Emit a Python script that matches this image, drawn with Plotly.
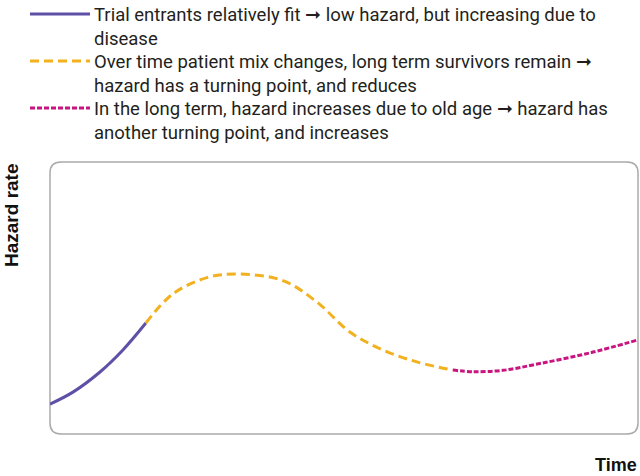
import plotly.graph_objects as go

# Data (time, hazard), axes 0..100
early_x = [0, 3.9, 8.5, 12.4, 16.3]
early_y = [11.0, 15.4, 22.8, 30.9, 40.8]

mid_x = [16.3, 20.9, 26.7, 32.0, 39.6, 45.4, 51.0, 56.6, 62.4, 68.5]
mid_y = [40.8, 51.5, 57.5, 58.8, 56.4, 48.5, 37.5, 30.9, 26.5, 23.5]

late_x = [68.5, 72.0, 77.0, 83.3, 91.8, 100]
late_y = [23.5, 22.9, 23.4, 25.9, 29.8, 34.6]

names = [
    "Trial entrants relatively fit \u279e low hazard, but increasing due to<br>disease",
    "Over time patient mix changes, long term survivors remain \u279e<br>hazard has a turning point, and reduces",
    "In the long term, hazard increases due to old age \u279e hazard has<br>another turning point, and increases",
]
colors = ["#5F4FA6", "#F2B11E", "#C8157F"]
dashes = ["solid", "9px,5px", "5px,2px"]

W, H = 640, 476
ml, mr, mt, mb = 50, 2, 162, 42
pw, ph = W - ml - mr, H - mt - mb


def px_x(px):
    return (px - ml) / pw


def px_y(py):
    return (H - mb - py) / ph


fig = go.Figure()
for xs, ys, nm, c, d in zip([early_x, mid_x, late_x], [early_y, mid_y, late_y], names, colors, dashes):
    fig.add_trace(go.Scatter(x=xs, y=ys, mode="lines", name=nm, showlegend=False,
                             line=dict(color=c, width=3, dash=d, shape="spline", smoothing=1.0)))

rx, ry = 11 / pw, 11 / ph
path = (f"M {rx} 0 L {1-rx} 0 Q 1 0 1 {ry} L 1 {1-ry} Q 1 1 {1-rx} 1 "
        f"L {rx} 1 Q 0 1 0 {1-ry} L 0 {ry} Q 0 0 {rx} 0 Z")
shapes = [dict(type="path", path=path, xref="paper", yref="paper",
               line=dict(color="#AAAAAA", width=1.5), layer="below")]

annotations = []
legend_tops = [14, 61, 108]
for nm, c, d, yl in zip(names, colors, dashes, legend_tops):
    shapes.append(dict(type="line", xref="paper", yref="paper",
                       x0=px_x(30), x1=px_x(90), y0=px_y(yl), y1=px_y(yl),
                       line=dict(color=c, width=3, dash=d)))
    annotations.append(dict(text=nm, x=px_x(92), y=px_y(yl - 12), xref="paper", yref="paper",
                            xanchor="left", yanchor="top", align="left", showarrow=False,
                            font=dict(family="Roboto, sans-serif", size=18.5, color="#231F20")))

annotations += [
    dict(text="<b>Hazard rate</b>", x=px_x(11), y=px_y(161), xref="paper", yref="paper",
         xanchor="center", yanchor="top", textangle=-90, showarrow=False,
         font=dict(family="Liberation Sans, Arial, sans-serif", size=19, color="#111111")),
    dict(text="<b>Time</b>", x=px_x(639), y=px_y(465), xref="paper", yref="paper",
         xanchor="right", yanchor="middle", showarrow=False,
         font=dict(family="Liberation Sans, Arial, sans-serif", size=18, color="#111111")),
]

fig.update_layout(
    width=W, height=H,
    margin=dict(l=ml, r=mr, t=mt, b=mb, autoexpand=False),
    plot_bgcolor="white", paper_bgcolor="white",
    font=dict(family="Roboto, sans-serif", size=18, color="#231F20"),
    xaxis=dict(range=[0, 100], visible=False),
    yaxis=dict(range=[0, 100], visible=False),
    shapes=shapes,
    annotations=annotations,
    showlegend=False,
)
fig.write_html("out.html", config={"displayModeBar": False},
               post_script="document.body.style.margin='0';")
